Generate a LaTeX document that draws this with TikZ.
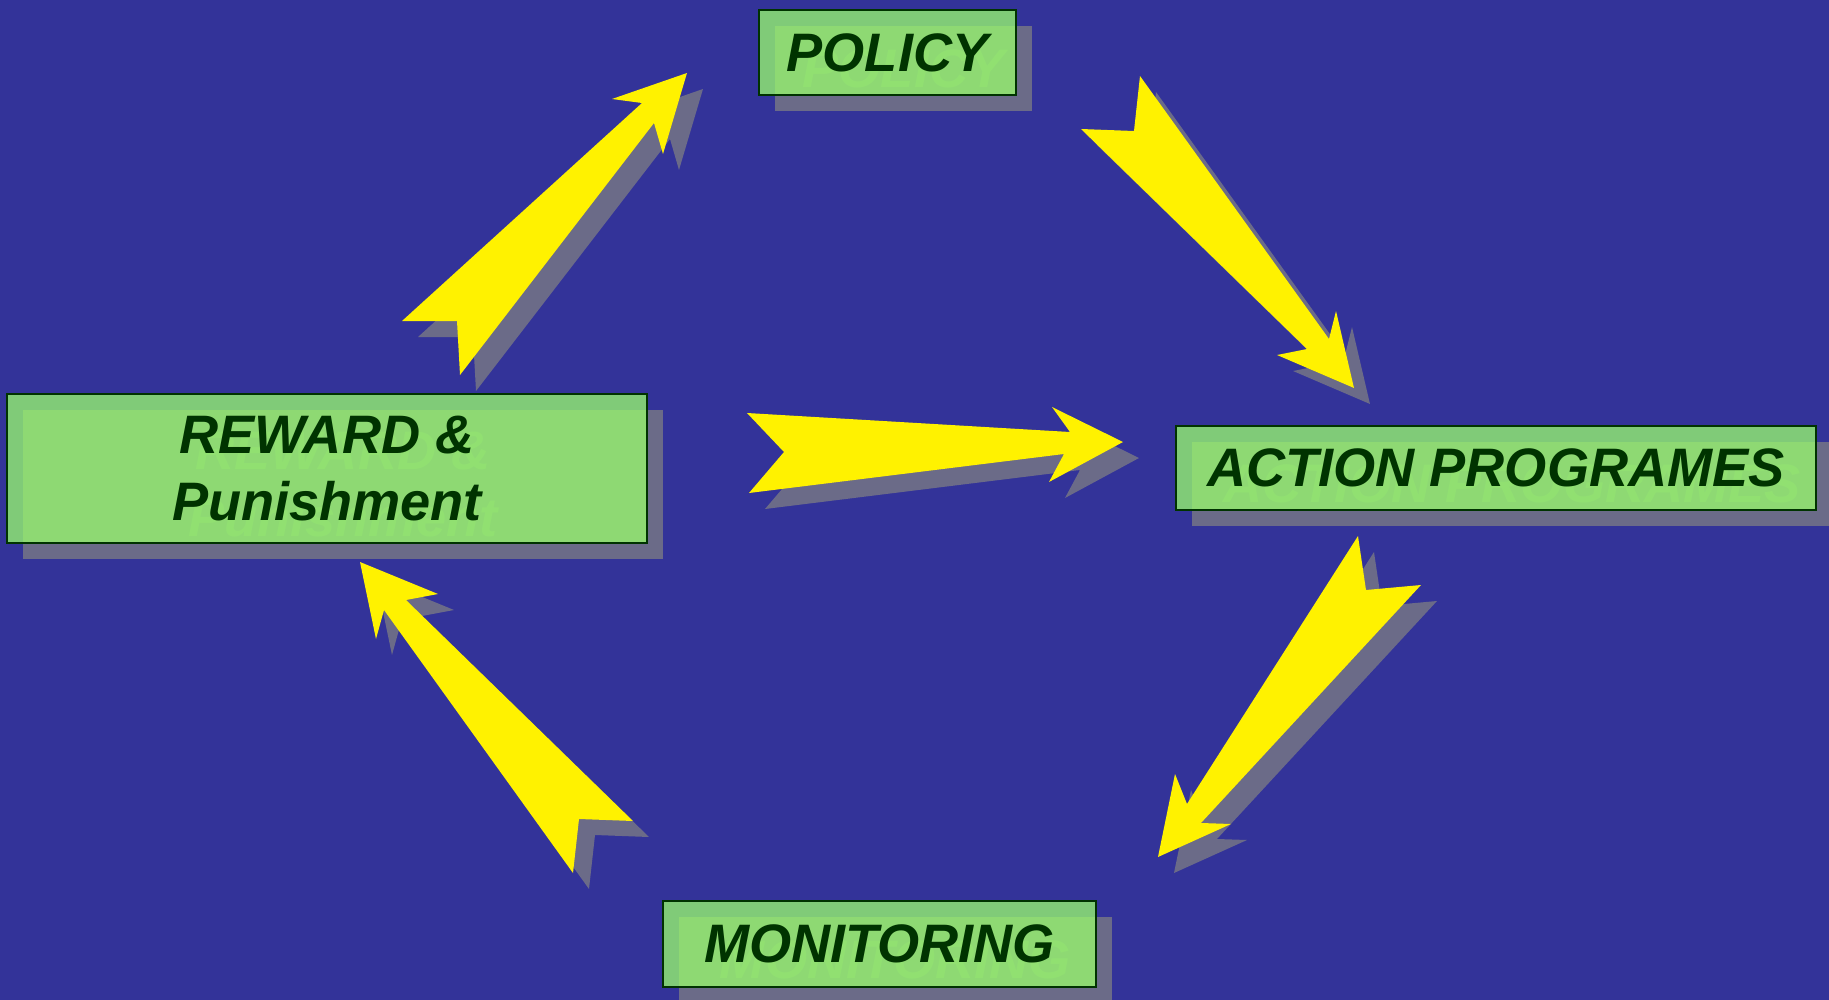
\documentclass[tikz,border=0pt]{standalone}
\usepackage{fontspec}
\setmainfont{Liberation Sans}
\definecolor{bgblue}{RGB}{51,51,153}
\definecolor{shadowgray}{RGB}{107,107,136}
\definecolor{boxgreen}{RGB}{154,255,109}
\definecolor{textgreen}{RGB}{0,51,0}
\definecolor{ghostgreen}{RGB}{122,134,128}
\newcommand{\labelfont}{\fontsize{15.4}{18.8}\selectfont\bfseries\itshape}
\tikzstyle{box} = [rectangle, inner sep=0pt, align=center, text centered, draw=textgreen, line width=0.6pt, fill=boxgreen, fill opacity=0.75, text opacity=1, text=textgreen, font=\labelfont]
\tikzstyle{boxshadow} = [rectangle, inner sep=0pt, align=center, text centered, fill=shadowgray, text=ghostgreen, font=\labelfont]
\tikzstyle{arrowbody} = [fill=yellow]
\tikzstyle{arrowshadow} = [fill=shadowgray, shift={(16,16)}]

\begin{document}
\begin{tikzpicture}[x=0.01cm, y=-0.01cm]

\useasboundingbox (0,0) rectangle (1829,1000);
\fill[bgblue] (-10,-10) rectangle (1839,1010);

% shadows of the boxes
\node at (903.5,68.5) (policyshadow) [boxshadow, minimum width=2.57cm, minimum height=0.85cm] {POLICY};
\node at (343,484.5) (rewardshadow) [boxshadow, minimum width=6.4cm, minimum height=1.49cm] {REWARD \&\\Punishment};
\node at (1512,484) (actionshadow) [boxshadow, minimum width=6.4cm, minimum height=0.84cm] {ACTION PROGRAMES};
\node at (895.5,960) (monitorshadow) [boxshadow, minimum width=4.33cm, minimum height=0.86cm] {MONITORING};

% boxes
\node at (887.5,52.5) (policy) [box, minimum width=2.57cm, minimum height=0.85cm] {POLICY};
\node at (327,468.5) (reward) [box, minimum width=6.4cm, minimum height=1.49cm] {REWARD \&\\Punishment};
\node at (1496,468) (action) [box, minimum width=6.4cm, minimum height=0.84cm] {ACTION PROGRAMES};
\node at (879.5,944) (monitor) [box, minimum width=4.33cm, minimum height=0.86cm] {MONITORING};

% reward -> policy
\fill[arrowshadow] (687,73) -- (663,154) -- (654,123) -- (460,375) -- (457,321) -- (402,321) -- (642,103) -- (612,99) -- cycle;
\fill[arrowbody] (687,73) -- (663,154) -- (654,123) -- (460,375) -- (457,321) -- (402,321) -- (642,103) -- (612,99) -- cycle;

% policy -> action
\fill[arrowshadow] (1140,76) -- (1329,339) -- (1336,311) -- (1354,388) -- (1277,355) -- (1307,349) -- (1081,129) -- (1134,131) -- cycle;
\fill[arrowbody] (1140,76) -- (1329,339) -- (1336,311) -- (1354,388) -- (1277,355) -- (1307,349) -- (1081,129) -- (1134,131) -- cycle;

% reward -> action
\fill[arrowshadow] (747,413) -- (1070,432) -- (1052,407) -- (1123,442) -- (1049,482) -- (1064,454) -- (749,493) -- (784,452) -- cycle;
\fill[arrowbody] (747,413) -- (1070,432) -- (1052,407) -- (1123,442) -- (1049,482) -- (1064,454) -- (749,493) -- (784,452) -- cycle;

% action -> monitoring
\fill[arrowshadow] (1358,536) -- (1366,590) -- (1421,585) -- (1201,823) -- (1231,824) -- (1158,857) -- (1175,774) -- (1187,804) -- cycle;
\fill[arrowbody] (1358,536) -- (1366,590) -- (1421,585) -- (1201,823) -- (1231,824) -- (1158,857) -- (1175,774) -- (1187,804) -- cycle;

% monitoring -> reward
\fill[arrowshadow] (360,562) -- (438,594) -- (406,600) -- (633,821) -- (579,819) -- (573,873) -- (384,610) -- (376,639) -- cycle;
\fill[arrowbody] (360,562) -- (438,594) -- (406,600) -- (633,821) -- (579,819) -- (573,873) -- (384,610) -- (376,639) -- cycle;

\end{tikzpicture}
\end{document}
